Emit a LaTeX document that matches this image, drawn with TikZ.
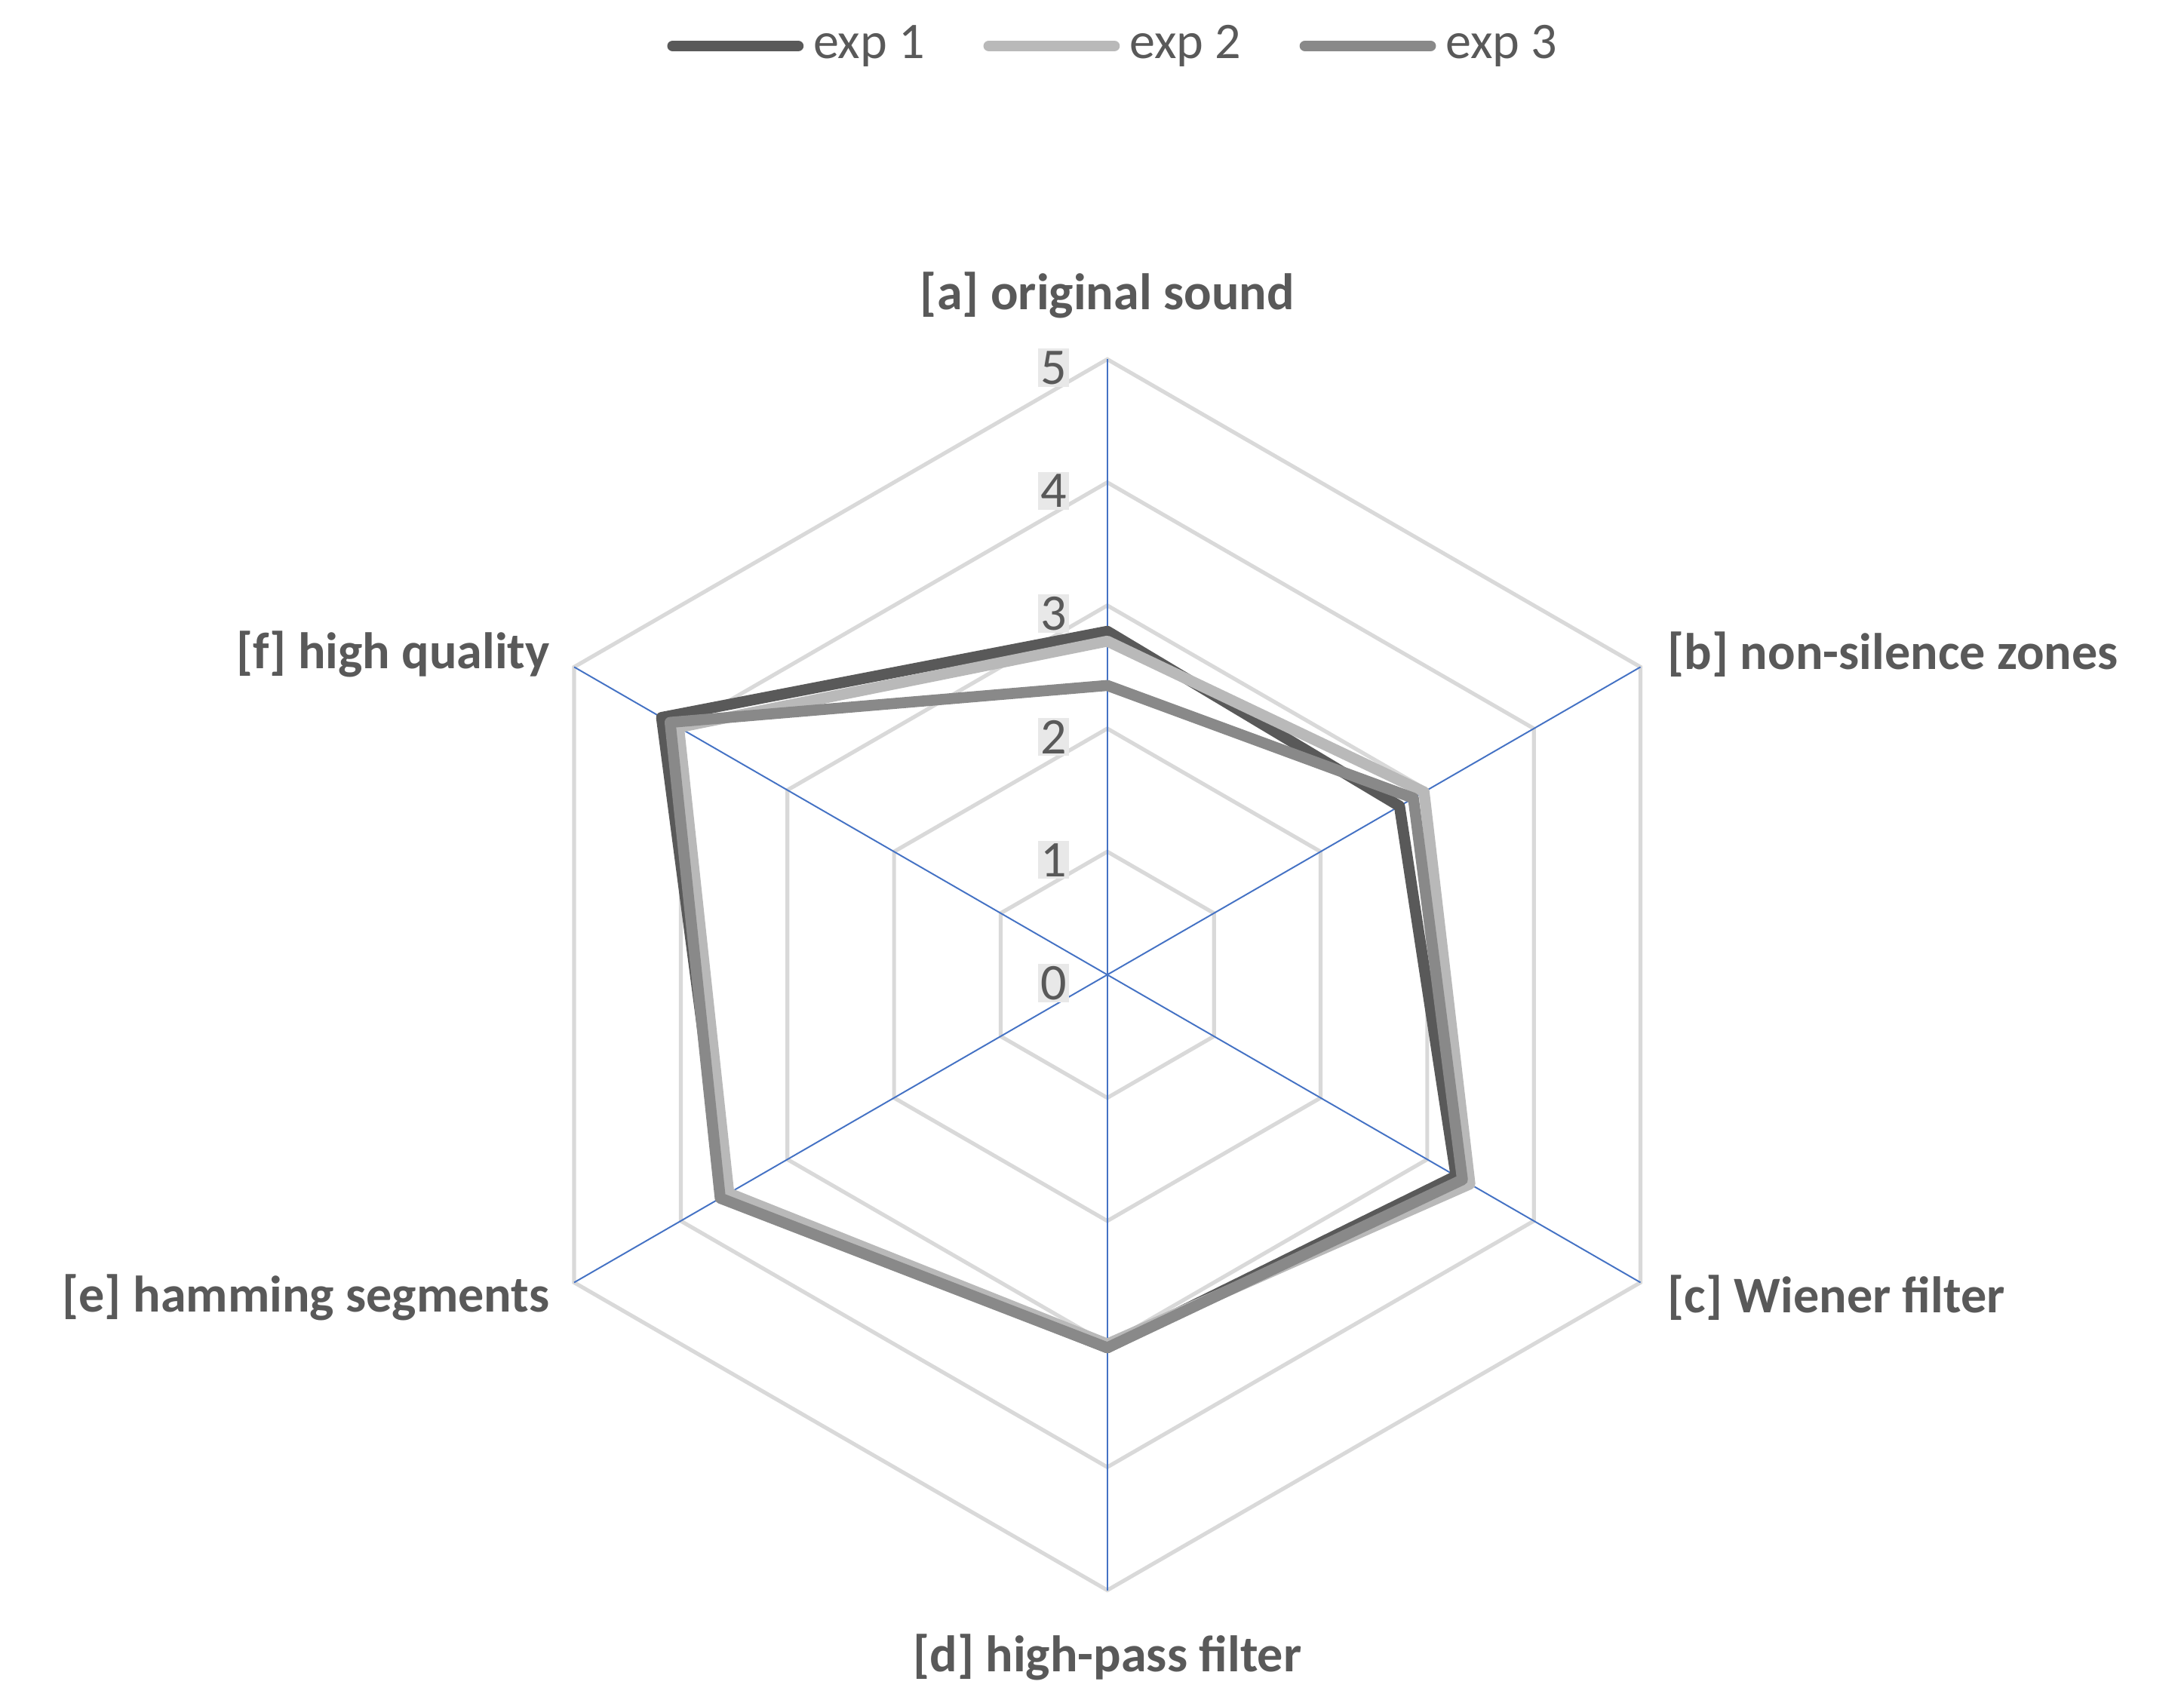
\documentclass[tikz,border=0pt]{standalone}
\usepackage{fontspec}
\setmainfont{Carlito}
\begin{document}
\begin{tikzpicture}[x=0.02cm,y=0.02cm,
  grid/.style={draw={rgb,255:red,217;green,217;blue,217},line width=1.6pt},
  axisline/.style={draw={rgb,255:red,68;green,114;blue,196},line width=0.6pt},
  series/.style={line width=4.5pt,line join=round,line cap=round},
  lab/.style={font=\bfseries\fontsize{21}{25}\selectfont,text={rgb,255:red,89;green,89;blue,89},inner sep=0pt},
  tick/.style={font=\fontsize{21}{25}\selectfont,text={rgb,255:red,89;green,89;blue,89},fill={rgb,255:red,232;green,232;blue,232},inner sep=1pt,anchor=east},
  leg/.style={font=\fontsize{21}{25}\selectfont,text={rgb,255:red,89;green,89;blue,89},anchor=west,inner sep=0pt}]
\definecolor{c1}{RGB}{89,89,89}
\definecolor{c2}{RGB}{185,185,185}
\definecolor{c3}{RGB}{137,137,137}
\useasboundingbox (-795,-525) rectangle (773,700);
\def\u{88.4}
% grid
\foreach \k in {1,...,5}{
  \draw[grid] (90:\k*\u) -- (30:\k*\u) -- (-30:\k*\u) -- (-90:\k*\u) -- (-150:\k*\u) -- (150:\k*\u) -- cycle;
}
\coordinate (O) at (0,0);
\foreach \a/\n in {90/A,30/B,-30/C,-90/D,-150/E,150/F}{
  \coordinate (\n) at (\a:5*\u);
  \draw[axisline] (O) -- (\n);
}
% ticks
\foreach \k in {0,...,5}{
  \node[tick] (t\k) at (-27,\k*\u-6) {\k};
}
% series
\foreach \name/\col/\va/\vb/\vc/\vd/\ve/\vf in {
  s1/c1/2.79/2.74/3.27/3.03/3.59/4.18,
  s2/c2/2.71/2.97/3.40/3.00/3.55/4.02,
  s3/c3/2.35/2.87/3.33/3.03/3.63/4.10}{
  \coordinate (\name a) at (90:\va*\u);
  \coordinate (\name b) at (30:\vb*\u);
  \coordinate (\name c) at (-30:\vc*\u);
  \coordinate (\name d) at (-90:\vd*\u);
  \coordinate (\name e) at (-150:\ve*\u);
  \coordinate (\name f) at (150:\vf*\u);
  \draw[series,\col] (\name a) -- (\name b) -- (\name c) -- (\name d) -- (\name e) -- (\name f) -- cycle;
}
% axis labels
\node[lab] (la) at (0,488) {[a] original sound};
\node[lab,anchor=west] (lb) at (402,230) {[b] non-silence zones};
\node[lab,anchor=west] (lc) at (402,-232) {[c] Wiener filter};
\node[lab] (ld) at (0,-490) {[d] high-pass filter};
\node[lab,anchor=east] (le) at (-400,-232) {[e] hamming segments};
\node[lab,anchor=east] (lf) at (-400,230) {[f] high quality};
% legend
\coordinate (l1s) at (-312,667); \coordinate (l1e) at (-222,667);
\coordinate (l2s) at (-85,667); \coordinate (l2e) at (5,667);
\coordinate (l3s) at (142,667); \coordinate (l3e) at (232,667);
\draw[series,c1] (l1s) -- (l1e);
\draw[series,c2] (l2s) -- (l2e);
\draw[series,c3] (l3s) -- (l3e);
\node[leg] (g1) at ([xshift=6]l1e) {exp 1};
\node[leg] (g2) at ([xshift=6]l2e) {exp 2};
\node[leg] (g3) at ([xshift=6]l3e) {exp 3};
\end{tikzpicture}
\end{document}
